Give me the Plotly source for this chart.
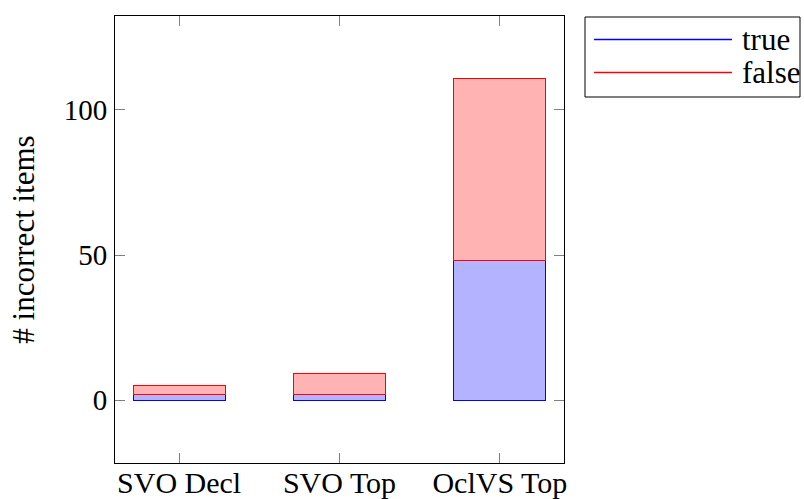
import plotly.graph_objects as go

categories = ["SVO Decl", "SVO Top", "OclVS Top"]
true_vals = [2, 2, 48]
false_vals = [3, 7, 63]
y_ticks = [0, 50, 100]
series_names = ["true", "false"]

FONT = "Liberation Serif"
fig = go.Figure()
fig.add_trace(go.Bar(x=categories, y=true_vals, name=series_names[0], width=0.575,
                     marker=dict(color="rgb(179,179,255)", line=dict(color="blue", width=1)),
                     showlegend=False))
fig.add_trace(go.Bar(x=categories, y=false_vals, name=series_names[1], width=0.575,
                     marker=dict(color="rgb(255,179,179)", line=dict(color="red", width=1)),
                     showlegend=False))

# custom pgfplots-style legend (px relative to plot area 115..564 x 16..463)
def px(v):
    return (v - 115) / 449

def py(v):
    return (463 - v) / 447

fig.add_shape(type="rect", xref="paper", yref="paper", x0=px(585), x1=px(800), y0=py(97), y1=py(17),
              line=dict(color="black", width=1), fillcolor="white")
for name, color, yy in [(series_names[0], "rgb(0,0,255)", 39.5), (series_names[1], "rgb(255,0,0)", 72.5)]:
    fig.add_shape(type="line", xref="paper", yref="paper",
                  x0=px(594), x1=px(732), y0=py(yy), y1=py(yy),
                  line=dict(color=color, width=1.3))
    fig.add_annotation(xref="paper", yref="paper", x=px(740), y=py(yy),
                       text=name, showarrow=False, xanchor="left", yanchor="middle",
                       font=dict(family=FONT, size=31, color="black"))

fig.update_layout(
    barmode="stack",
    width=804, height=499,
    margin=dict(l=115, r=240, t=16, b=36, autoexpand=False),
    plot_bgcolor="white", paper_bgcolor="white",
    font=dict(family=FONT, size=30, color="black"),
    showlegend=False,
)
fig.update_xaxes(range=[-0.4, 2.4], showline=True, linecolor="black", linewidth=1, mirror="ticks",
                 ticks="inside", ticklen=10, tickcolor="gray", tickwidth=1, showgrid=False,
                 tickfont=dict(family=FONT, size=30), ticklabelstandoff=-7, automargin=False)
fig.update_yaxes(range=[-21.7, 132.4], tickvals=y_ticks, showline=True, linecolor="black", linewidth=1,
                 mirror="ticks", ticks="inside", ticklen=10, tickcolor="gray", tickwidth=1,
                 showgrid=False, zeroline=False, tickfont=dict(family=FONT, size=29), automargin=False,
                 ticklabelstandoff=1,
                 title=dict(text="# incorrect items", font=dict(family=FONT, size=31), standoff=19))

fig.write_html("out.html", config={"displayModeBar": False},
               post_script="document.body.style.margin='0';document.body.style.overflow='hidden';")
